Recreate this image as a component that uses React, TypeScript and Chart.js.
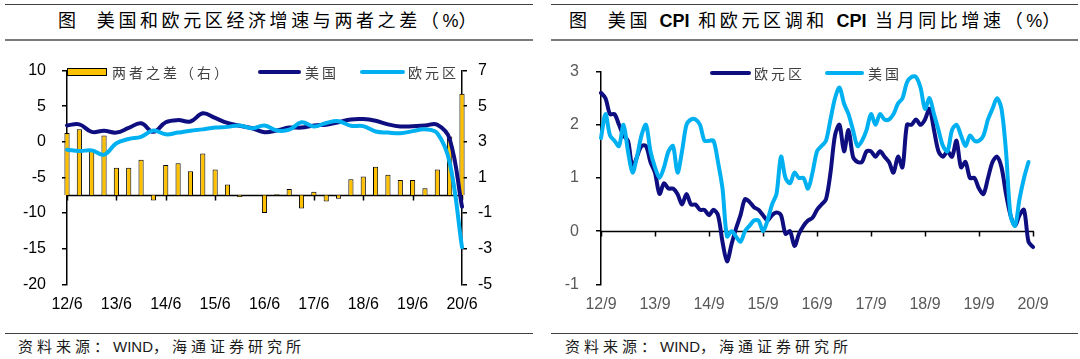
import React, { useEffect, useRef } from 'react';
import { Chart, registerables } from 'chart.js';

Chart.register(...registerables);

// ---------- Left chart data (quarterly, 12/6 .. 20/6) ----------
const gdpQuarters: string[] = [];
for (let y = 12; y <= 20; y++) {
  for (const m of [3, 6, 9, 12]) {
    if ((y === 12 && m < 6) || (y === 20 && m > 6)) continue;
    gdpQuarters.push(`${y}/${m}`);
  }
}
const gdpUS = [2.3, 2.45, 1.4, 1.55, 1.3, 1.95, 2.6, 1.4, 2.75, 3.05, 2.85, 4.0, 3.35, 2.65, 2.25, 1.9, 1.35, 1.6, 2.0, 2.0, 2.3, 2.4, 2.75, 3.15, 3.2, 2.95, 2.45, 2.15, 2.2, 2.3, 2.4, 0.4, -9.1];
const gdpEuro = [-1.1, -1.3, -1.2, -1.8, -0.2, 0.4, 0.7, 1.6, 1.05, 1.3, 1.55, 1.75, 2.0, 2.1, 2.3, 1.9, 2.3, 1.6, 1.7, 2.75, 2.15, 2.65, 2.9, 2.25, 2.2, 1.45, 1.3, 1.2, 1.5, 1.75, 1.2, -2.9, -14.8];
const gdpDiff = [3.5, 3.7, 2.6, 3.35, 1.55, 1.55, 2.0, -0.3, 1.7, 1.8, 1.35, 2.35, 1.45, 0.6, -0.1, 0, -1.0, 0.05, 0.35, -0.75, 0.2, -0.35, -0.2, 0.9, 1.05, 1.6, 1.15, 0.85, 0.85, 0.4, 1.45, 3.3, 5.7];
const gdpLeftRange = [-20, 10, 5];
const gdpRightRange = [-5, 7, 2];

// ---------- Right chart data (monthly, 12/9 .. 20/9) ----------
const cpiMonths: string[] = [];
for (let y = 12; y <= 20; y++) {
  for (let m = 1; m <= 12; m++) {
    if ((y === 12 && m < 9) || (y === 20 && m > 9)) continue;
    cpiMonths.push(`${y}/${m}`);
  }
}
const cpiEuro = [
  2.6, 2.5, 2.2, 2.2,
  2.0, 1.8, 1.7, 1.2, 1.4, 1.6, 1.6, 1.3, 1.1, 0.7, 0.9, 0.8,
  0.8, 0.7, 0.5, 0.7, 0.5, 0.5, 0.4, 0.4, 0.3, 0.4, 0.3, -0.2,
  -0.57, -0.25, 0.05, 0.3, 0.6, 0.55, 0.45, 0.4, 0.3, 0.2, 0.3, 0.35,
  0.3, -0.05, 0.0, -0.28, -0.05, 0.1, 0.2, 0.25, 0.4, 0.5, 0.6, 1.1,
  1.8, 2.0, 1.5, 1.9, 1.4, 1.3, 1.3, 1.5, 1.5, 1.4, 1.5, 1.4,
  1.3, 1.1, 1.4, 1.2, 2.0, 2.0, 2.1, 2.0, 2.1, 2.3, 1.9, 1.5,
  1.4, 1.5, 1.4, 1.7, 1.2, 1.3, 1.0, 1.0, 0.8, 0.7, 1.0, 1.3,
  1.4, 1.2, 0.7, 0.3, 0.1, 0.3, 0.4, -0.2, -0.3,
];
const cpiUS = [
  1.75, 2.2, 1.8, 1.7,
  1.6, 2.0, 1.5, 1.1, 1.4, 1.8, 2.0, 1.5, 1.2, 1.0, 1.2, 1.5,
  1.6, 1.1, 1.5, 2.0, 2.1, 2.1, 2.0, 1.7, 1.7, 1.7, 1.3, 0.8,
  -0.1, 0.0, -0.1, -0.2, 0.0, 0.1, 0.2, 0.2, 0.0, 0.2, 0.5, 0.7,
  1.4, 1.0, 0.9, 1.1, 1.0, 1.0, 0.8, 1.1, 1.5, 1.6, 1.7, 2.1,
  2.5, 2.7, 2.4, 2.2, 1.9, 1.6, 1.7, 1.9, 2.2, 2.0, 2.2, 2.1,
  2.1, 2.2, 2.4, 2.5, 2.8, 2.9, 2.9, 2.7, 2.3, 2.5, 2.2, 1.9,
  1.6, 1.5, 1.9, 2.0, 1.8, 1.6, 1.8, 1.7, 1.7, 1.8, 2.1, 2.3,
  2.5, 2.3, 1.5, 0.3, 0.1, 0.6, 1.0, 1.3, null,
];
const cpiRange = [-1, 3, 1];

// ---------- styles ----------
const NAVY = '#0E0E80';
const SKY = '#00B0F0';
const GOLD = '#FFC000';
const TICK_FONT = { family: '"Liberation Sans", Arial, sans-serif', size: 16 };
const CJK = '"Liberation Sans", "Noto Sans CJK SC", sans-serif';

// x-axis line drawn at value 0 of a given y scale, with tick marks
const zeroAxisPlugin = (yId: string, every: number) => ({
  id: 'zeroAxis',
  beforeDatasetsDraw(chart: any) {
    const { ctx, chartArea } = chart;
    const ys = chart.scales[yId];
    const xs = chart.scales.x;
    const y = Math.round(ys.getPixelForValue(0)) + 0.5;
    ctx.save();
    ctx.strokeStyle = '#000';
    ctx.lineWidth = 1.5;
    ctx.beginPath();
    ctx.moveTo(chartArea.left, y);
    ctx.lineTo(chartArea.right + 1, y);
    const n = chart.data.labels.length;
    for (let i = 0; i < n; i += every) {
      const x = Math.round(xs.getPixelForValue(i)) + 0.5;
      ctx.moveTo(x, y);
      ctx.lineTo(x, y + 5);
    }
    ctx.stroke();
    ctx.restore();
  },
});

type LegendItem = { kind: 'box' | 'line'; color: string; x0: number; x1: number; y: number; text: string; tx: number };
const legendPlugin = (items: LegendItem[]) => ({
  id: 'customLegend',
  afterDraw(chart: any) {
    const ctx = chart.ctx;
    ctx.save();
    for (const it of items) {
      if (it.kind === 'box') {
        ctx.fillStyle = it.color;
        ctx.fillRect(it.x0, it.y - 4, it.x1 - it.x0, 8);
        ctx.strokeStyle = '#000';
        ctx.lineWidth = 1;
        ctx.strokeRect(it.x0 + 0.5, it.y - 3.5, it.x1 - it.x0 - 1, 7);
      } else {
        ctx.strokeStyle = it.color;
        ctx.lineWidth = 4;
        ctx.lineCap = 'round';
        ctx.beginPath();
        ctx.moveTo(it.x0, it.y);
        ctx.lineTo(it.x1, it.y);
        ctx.stroke();
      }
      ctx.fillStyle = '#404040';
      ctx.font = '14px "Noto Sans CJK SC", sans-serif';
      (ctx as any).letterSpacing = '3px';
      ctx.textBaseline = 'middle';
      ctx.textAlign = 'left';
      ctx.fillText(it.text, it.tx, it.y + 1);
    }
    ctx.restore();
  },
});

function makeGdpConfig(): any {
  return {
    type: 'bar',
    data: {
      labels: gdpQuarters,
      datasets: [
        {
          type: 'line', label: '美国', data: gdpUS, yAxisID: 'y',
          borderColor: NAVY, borderWidth: 4, pointRadius: 0, tension: 0.4, order: 2,
          borderJoinStyle: 'round', borderCapStyle: 'round',
        },
        {
          type: 'line', label: '欧元区', data: gdpEuro, yAxisID: 'y',
          borderColor: SKY, borderWidth: 4, pointRadius: 0, tension: 0.4, order: 1,
          borderJoinStyle: 'round', borderCapStyle: 'round',
        },
        {
          type: 'bar', label: '两者之差（右）', data: gdpDiff, yAxisID: 'y1',
          backgroundColor: GOLD, borderColor: '#000', borderWidth: 1,
          barPercentage: 0.42, categoryPercentage: 1, order: 3, clip: false,
        },
      ],
    },
    options: {
      responsive: false, maintainAspectRatio: false, animation: false,
      layout: { padding: { left: 0, right: 0, top: 20.3, bottom: 10.7 } },
      plugins: { legend: { display: false }, tooltip: { enabled: false } },
      scales: {
        x: {
          type: 'category', offset: false,
          grid: { display: false, drawTicks: false }, border: { display: false },
          ticks: {
            autoSkip: false, maxRotation: 0, minRotation: 0, padding: 11,
            font: TICK_FONT, color: '#000',
            callback: (_v: any, i: number) => (i % 4 === 0 ? gdpQuarters[i] : ''),
          },
          afterFit: (s: any) => { s.height = 30; },
        },
        y: {
          position: 'left', min: gdpLeftRange[0], max: gdpLeftRange[1],
          ticks: { stepSize: gdpLeftRange[2], padding: 16, font: TICK_FONT, color: '#000' },
          grid: { drawOnChartArea: false, drawTicks: true, tickLength: 5, color: '#000', lineWidth: 1.5 },
          border: { display: true, color: '#000', width: 1.5 },
          afterFit: (s: any) => { s.width = 67; },
        },
        y1: {
          position: 'right', min: gdpRightRange[0], max: gdpRightRange[1],
          ticks: { stepSize: gdpRightRange[2], padding: 11, font: TICK_FONT, color: '#000' },
          grid: { drawOnChartArea: false, drawTicks: true, tickLength: 5, color: '#000', lineWidth: 1.5 },
          border: { display: true, color: '#000', width: 1.5 },
          afterFit: (s: any) => { s.width = 78; },
        },
      },
    },
    plugins: [
      zeroAxisPlugin('y1', 4),
      legendPlugin([
        { kind: 'box', color: GOLD, x0: 67, x1: 107, y: 27, text: '两者之差（右）', tx: 112 },
        { kind: 'line', color: NAVY, x0: 260, x1: 299, y: 27, text: '美国', tx: 305 },
        { kind: 'line', color: SKY, x0: 362, x1: 403, y: 27, text: '欧元区', tx: 408 },
      ]),
    ],
  };
}

function makeCpiConfig(): any {
  return {
    type: 'line',
    data: {
      labels: cpiMonths,
      datasets: [
        {
          label: '欧元区', data: cpiEuro, borderColor: NAVY, borderWidth: 4,
          pointRadius: 0, tension: 0.3, order: 2, borderJoinStyle: 'round', borderCapStyle: 'round',
        },
        {
          label: '美国', data: cpiUS, borderColor: SKY, borderWidth: 4,
          pointRadius: 0, tension: 0.3, order: 1, borderJoinStyle: 'round', borderCapStyle: 'round',
        },
      ],
    },
    options: {
      responsive: false, maintainAspectRatio: false, animation: false,
      layout: { padding: { left: 0, right: 47, top: 21.7, bottom: 10.7 } },
      plugins: { legend: { display: false }, tooltip: { enabled: false } },
      scales: {
        x: {
          type: 'category', offset: false,
          grid: { display: false, drawTicks: false }, border: { display: false },
          ticks: {
            autoSkip: false, maxRotation: 0, minRotation: 0, padding: 11,
            font: TICK_FONT, color: '#595959',
            callback: (_v: any, i: number) => (i % 12 === 0 ? cpiMonths[i] : ''),
          },
          afterFit: (s: any) => { s.height = 30; },
        },
        y: {
          position: 'left', min: cpiRange[0], max: cpiRange[1],
          ticks: { stepSize: cpiRange[2], padding: 17, font: TICK_FONT, color: '#595959' },
          grid: { drawOnChartArea: false, drawTicks: true, tickLength: 5, color: '#000', lineWidth: 1.5 },
          border: { display: true, color: '#000', width: 1.5 },
          afterFit: (s: any) => { s.width = 61; },
        },
      },
    },
    plugins: [
      zeroAxisPlugin('y', 12),
      legendPlugin([
        { kind: 'line', color: NAVY, x0: 172, x1: 209, y: 28, text: '欧元区', tx: 214 },
        { kind: 'line', color: SKY, x0: 287, x1: 322, y: 28, text: '美国', tx: 328 },
      ]),
    ],
  };
}

function ChartBox({ make, left, top, width, height }: { make: () => any; left: number; top: number; width: number; height: number }) {
  const ref = useRef<HTMLCanvasElement>(null);
  useEffect(() => {
    const chart = new Chart(ref.current as HTMLCanvasElement, make());
    return () => chart.destroy();
  }, []);
  return (
    <canvas
      ref={ref}
      width={width}
      height={height}
      style={{ position: 'absolute', left, top, width, height, display: 'block' }}
    />
  );
}

const rule = (left: number, top: number, width: number, h: number, color: string) => (
  <div style={{ position: 'absolute', left, top, width, height: h, background: color }} />
);

const titleStyle: React.CSSProperties = {
  position: 'absolute', top: 9, fontFamily: CJK, fontSize: 18, lineHeight: '24px',
  letterSpacing: '3.6px', color: '#000', whiteSpace: 'nowrap',
};
const sourceStyle: React.CSSProperties = {
  position: 'absolute', top: 337, fontFamily: CJK, fontSize: 15, lineHeight: '20px',
  letterSpacing: '4px', color: '#1a1a1a', whiteSpace: 'nowrap',
};
const latin: React.CSSProperties = { letterSpacing: 0, fontFamily: '"Liberation Sans", Arial, sans-serif' };

export default function App() {
  return (
    <div style={{ position: 'fixed', left: 0, top: 0, width: 1080, height: 359, background: '#fff', overflow: 'hidden' }}>
      {/* left panel */}
      {rule(5, 4, 528, 1, '#404040')}
      <div style={{ ...titleStyle, left: 58 }}>图&nbsp; 美国和欧元区经济增速与两者之差（<span style={latin}>%</span>）</div>
      {rule(5, 39, 528, 2, '#7a7a7a')}
      <ChartBox make={makeGdpConfig} left={0} top={45} width={540} height={280} />
      {rule(5, 333, 528, 1, '#404040')}
      <div style={{ ...sourceStyle, left: 18 }}>资料来源：<span style={latin}>WIND</span>，海通证券研究所</div>

      {/* right panel */}
      {rule(551, 4, 527, 1, '#404040')}
      <div style={{ ...titleStyle, left: 569 }}>
        图&nbsp; 美国 <b style={latin}>CPI</b> 和欧元区调和 <b style={latin}>CPI</b> 当月同比增速（<span style={latin}>%</span>）
      </div>
      {rule(551, 39, 527, 2, '#7a7a7a')}
      <ChartBox make={makeCpiConfig} left={540} top={45} width={540} height={280} />
      {rule(551, 333, 527, 1, '#404040')}
      <div style={{ ...sourceStyle, left: 565 }}>资料来源：<span style={latin}>WIND</span>，海通证券研究所</div>
    </div>
  );
}
